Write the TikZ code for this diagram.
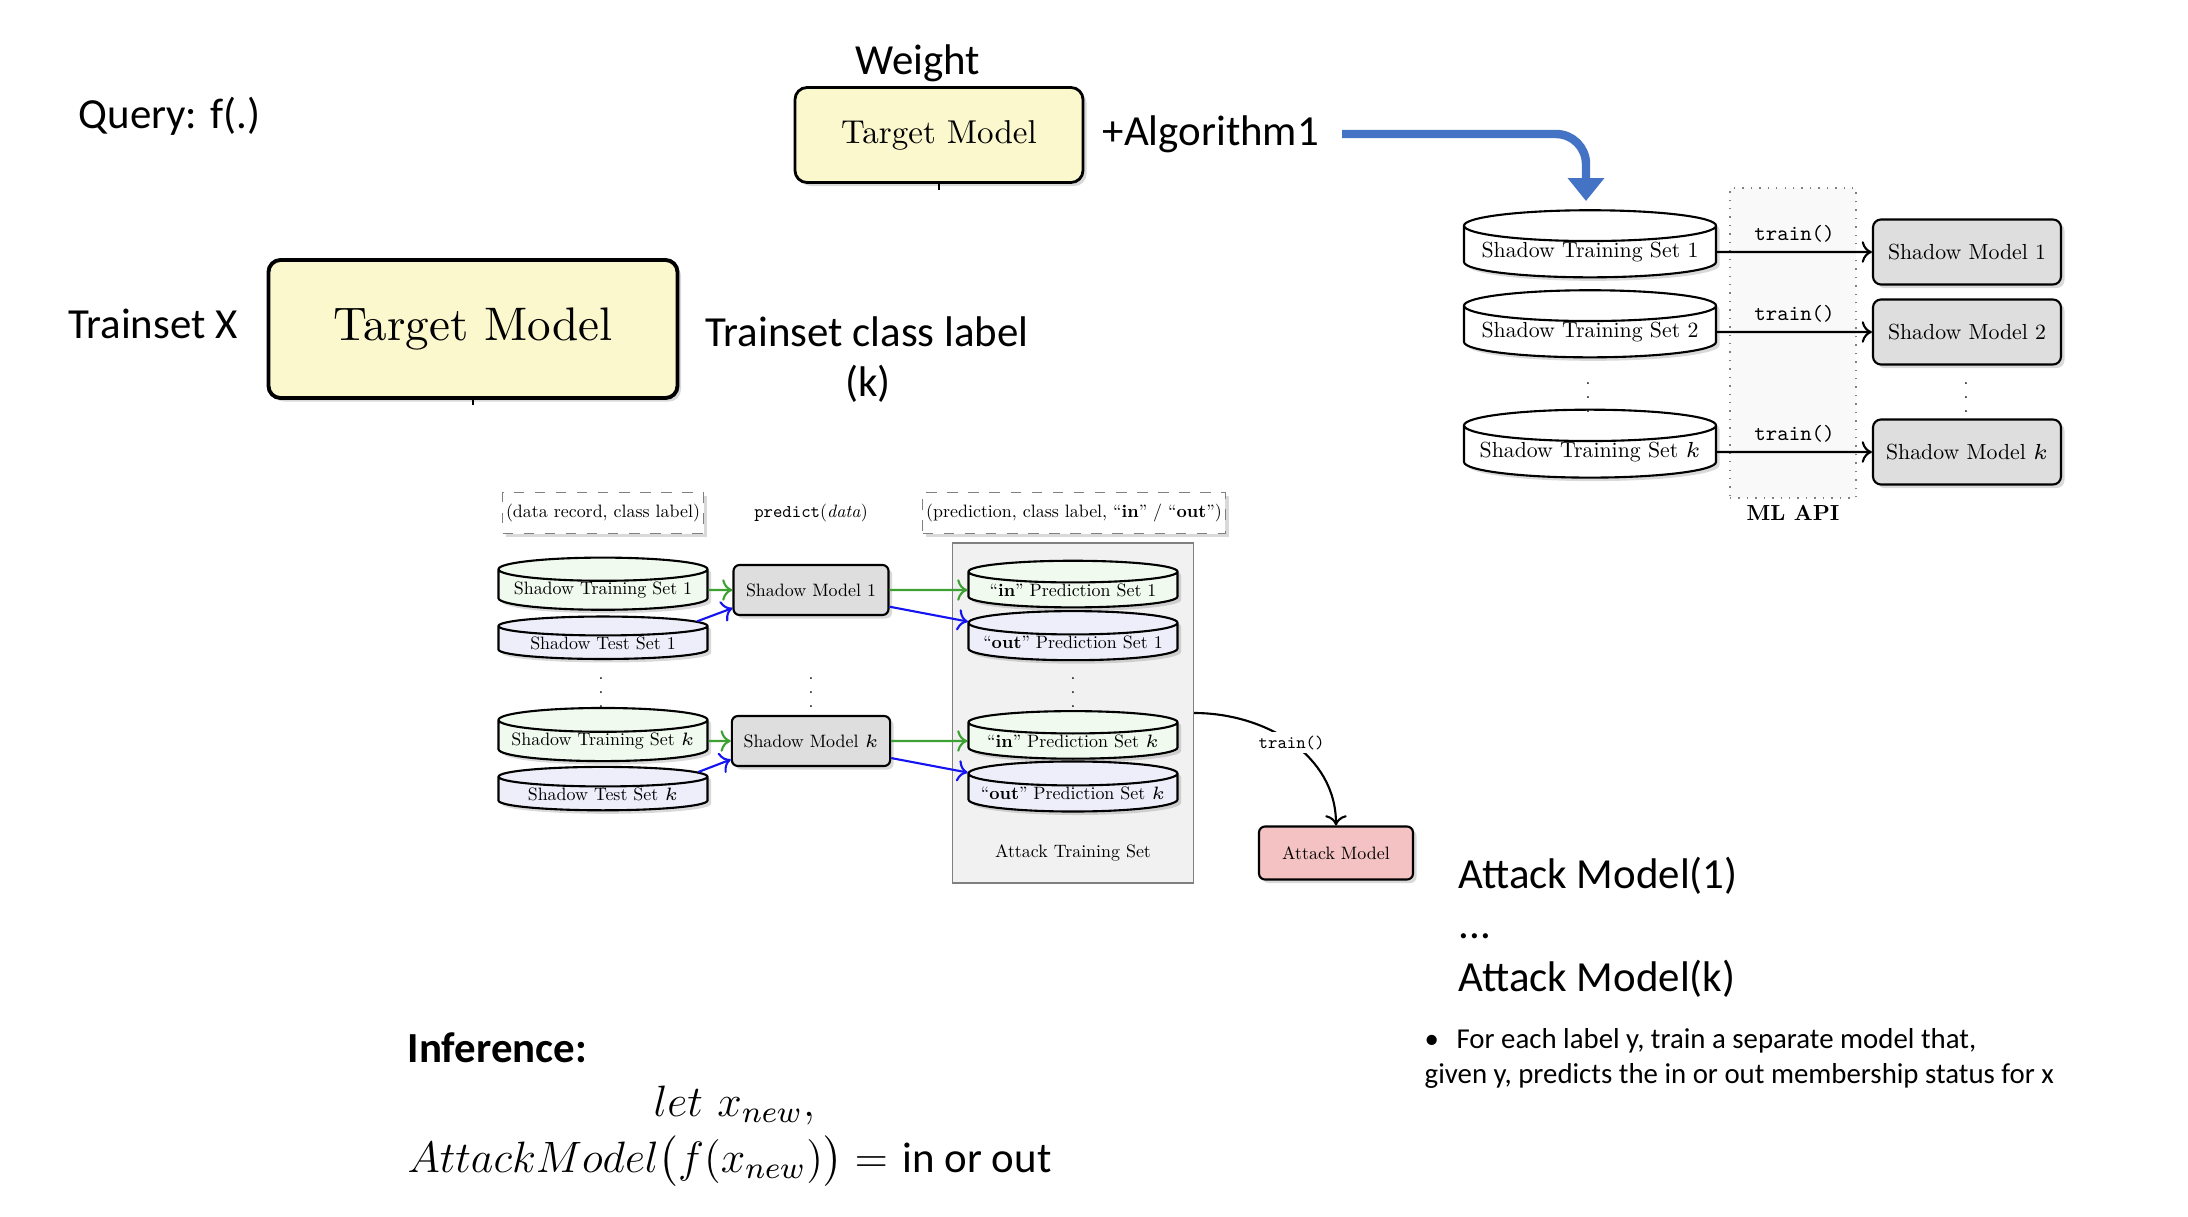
\RequirePackage{fix-cm}
\documentclass[tikz,border=0pt]{standalone}
\usepackage{amsmath}
\usepackage{fontspec}
\setmainfont{lmroman10-regular.otf}[BoldFont=lmroman10-bold.otf, ItalicFont=lmroman10-italic.otf, BoldItalicFont=lmroman10-bolditalic.otf]
\setmonofont{lmmono10-regular.otf}
\newfontfamily\slidefont{Carlito}
\usepackage{tikz}
\usetikzlibrary{positioning,shapes.geometric,arrows.meta,shadows}

\definecolor{tmyellow}{RGB}{252,248,206}
\definecolor{smgray}{RGB}{222,222,222}
\definecolor{atkpink}{RGB}{244,194,194}
\definecolor{ingreen}{RGB}{240,250,238}
\definecolor{outblue}{RGB}{238,238,251}
\definecolor{arrgreen}{RGB}{60,160,50}
\definecolor{arrblue}{RGB}{20,20,240}
\definecolor{pptblue}{RGB}{68,114,196}
\definecolor{panelgray}{RGB}{241,241,241}

\newcommand{\upfont}{\fontsize{6.2}{7.4}\selectfont}
\newcommand{\lofont}{\fontsize{5.1}{6.1}\selectfont}
\newcommand{\slidesize}{\fontsize{12.2}{14.6}\selectfont}

\tikzstyle{dshadow} = [drop shadow={shadow xshift=0.35mm, shadow yshift=-0.35mm, opacity=0.3}]
\tikzstyle{slide} = [inner sep=0pt, font=\slidefont\slidesize]
\tikzstyle{tmodel} = [rectangle, rounded corners=0.12cm, draw, fill=tmyellow, dshadow]
\tikzstyle{api} = [rectangle, draw=gray, dotted, fill=gray!5, minimum width=1.26cm, minimum height=3.1cm]
\tikzstyle{updb} = [cylinder, shape border rotate=90, aspect=0.142, draw, semithick, fill=white, minimum width=2.52cm, minimum height=0.46cm, font=\upfont, inner sep=0pt, dshadow]
\tikzstyle{upmodel} = [rectangle, rounded corners=0.08cm, draw, semithick, fill=smgray, minimum width=1.88cm, minimum height=0.65cm, font=\upfont, dshadow]
\tikzstyle{lodb} = [cylinder, shape border rotate=90, aspect=0.13, draw, semithick, minimum width=2.09cm, minimum height=0.36cm, font=\lofont, inner sep=0pt, dshadow]
\tikzstyle{indb} = [lodb, fill=ingreen]
\tikzstyle{outdb} = [lodb, fill=outblue]
\tikzstyle{lomodel} = [rectangle, rounded corners=0.06cm, draw, semithick, fill=smgray, minimum width=1.55cm, minimum height=0.5cm, font=\lofont, dshadow]
\tikzstyle{atkmodel} = [lomodel, fill=atkpink, minimum width=1.54cm, minimum height=0.53cm]
\tikzstyle{tag} = [rectangle, draw=gray, dashed, fill=white, inner xsep=1pt, minimum height=0.31cm, font=\lofont, dshadow]
\tikzstyle{panel} = [rectangle, draw=gray, fill=panelgray, minimum width=2.41cm, minimum height=3.4cm]
\tikzstyle{vdots} = [inner sep=0pt, font=\fontsize{5}{6}\selectfont]
\tikzstyle{line} = [draw, semithick, ->]
\tikzstyle{gline} = [line, arrgreen]
\tikzstyle{bline} = [line, arrblue]
\tikzstyle{algo} = [draw=pptblue, line width=2.4pt, rounded corners=0.3cm, -{Triangle[width=10pt,length=6.5pt]}]

\begin{document}
\begin{tikzpicture}[x=0.1mm, y=-0.1mm]
        \useasboundingbox (0, 0) rectangle (2188, 1216);

        % Slide text
        \node at (78, 128) [slide, anchor=base west] (query) {Query: f(.)};
        \node at (918, 74) [slide, anchor=base] (weight) {Weight};
        \node at (1102, 145) [slide, anchor=base west] (algo) {+Algorithm1};
        \node at (153, 338) [slide, anchor=base] (trainx) {Trainset X};
        \node at (867, 346) [slide, anchor=base] (tlabel) {Trainset class label};
        \node at (868, 396) [slide, anchor=base] (tlabelk) {(k)};
        \node at (1458, 888) [slide, anchor=base west] (atk1) {Attack Model(1)};
        \node at (1458, 938) [slide, anchor=base west] (atkdots) {...};
        \node at (1458, 991) [slide, anchor=base west] (atkk) {Attack Model(k)};
        \node at (1424, 1083) [inner sep=0pt, anchor=base west, align=left, font=\slidefont\fontsize{8.2}{9.7}\selectfont] (note) {\textbullet\hspace{5pt}For each label y, train a separate model that,\\given y, predicts the in or out membership status for x};
        \node at (407, 1062) [slide, anchor=base west, font=\slidefont\slidesize\bfseries] (infer) {Inference:};
        \node at (653, 1116) [inner sep=0pt, anchor=base west, font=\fontsize{12.5}{15}\selectfont] (letx) {$let\ x_{new},$};
        \node at (407, 1172) [inner sep=0pt, anchor=base west, font=\fontsize{12.5}{15}\selectfont] (rule) {$AttackModel\bigl(f(x_{new})\bigr) =$ {\slidefont\slidesize in or out}};

        % Target models
        \node at (939, 135) [tmodel, line width=0.8pt, minimum width=2.88cm, minimum height=0.95cm, font=\fontsize{9.4}{11}\selectfont] (tmtop) {Target Model};
        \node at (473, 329) [tmodel, line width=1.1pt, minimum width=4.09cm, minimum height=1.38cm, font=\fontsize{13.4}{16}\selectfont] (tmbig) {Target Model};
        \coordinate (tmtopend) at (939, 190);
        \coordinate (tmbigend) at (473, 405);
        \draw (tmtop.south) -- (tmtopend);
        \draw (tmbig.south) -- (tmbigend);

        % Algorithm arrow
        \coordinate (astart) at (1342, 134);
        \coordinate (aend) at (1586, 201);
        \draw [algo] (astart) -| (aend);

        % Shadow training through the ML API
        \node at (1793, 343) [api] (api) {};
        \node at (1793, 513) [font=\upfont\bfseries] (apilabel) {ML API};
        \node at (1590, 252) [updb] (st1) {Shadow Training Set 1};
        \node at (1590, 332) [updb] (st2) {Shadow Training Set 2};
        \node at (1590, 452) [updb] (stk) {Shadow Training Set $k$};
        \node at (1588, 387) [vdots] (stdots) {$\vdots$};
        \node at (1967, 252) [upmodel] (sm1) {Shadow Model 1};
        \node at (1967, 332) [upmodel] (sm2) {Shadow Model 2};
        \node at (1967, 452) [upmodel] (smk) {Shadow Model $k$};
        \node at (1966, 387) [vdots] (smdots) {$\vdots$};
        \path [line] (st1) -- node [above=-0.9pt, font=\upfont] {\texttt{train()}} (sm1);
        \path [line] (st2) -- node [above=-0.9pt, font=\upfont] {\texttt{train()}} (sm2);
        \path [line] (stk) -- node [above=-0.9pt, font=\upfont] {\texttt{train()}} (smk);

        % Attack training data
        \node at (603, 513) [tag] (tag1) {(data record, class label)};
        \node at (811, 513) [font=\lofont] (pred) {\texttt{predict}(\textit{data})};
        \node at (1074, 513) [tag] (tag2) {(prediction, class label, “\textbf{in}” / “\textbf{out}”)};
        \node at (1073, 713) [panel] (atkset) {};
        \node at (1073, 853) [font=\lofont] (atklabel) {Attack Training Set};

        \node at (603, 590) [indb] (tr1) {Shadow Training Set 1};
        \node at (603, 643) [outdb] (te1) {Shadow Test Set 1};
        \node at (603, 741) [indb] (trk) {Shadow Training Set $k$};
        \node at (603, 794) [outdb] (tek) {Shadow Test Set $k$};
        \node at (601, 682) [vdots] (trdots) {$\vdots$};
        \node at (811, 590) [lomodel] (m1) {Shadow Model 1};
        \node at (811, 741) [lomodel] (mk) {Shadow Model $k$};
        \node at (811, 682) [vdots] (mdots) {$\vdots$};
        \node at (1073, 590) [indb] (in1) {“\textbf{in}” Prediction Set 1};
        \node at (1073, 642) [outdb] (out1) {“\textbf{out}” Prediction Set 1};
        \node at (1073, 741) [indb] (ink) {“\textbf{in}” Prediction Set $k$};
        \node at (1073, 793) [outdb] (outk) {“\textbf{out}” Prediction Set $k$};
        \node at (1073, 682) [vdots] (pdots) {$\vdots$};
        \node at (1336, 853) [atkmodel] (atkm) {Attack Model};

        \path [gline] (tr1) -- (m1);
        \path [bline] (te1.13) -- (m1.193);
        \path [gline] (m1) -- (in1);
        \path [bline] (m1.348) -- (out1.169);
        \path [gline] (trk) -- (mk);
        \path [bline] (tek.13) -- (mk.193);
        \path [gline] (mk) -- (ink);
        \path [bline] (mk.348) -- (outk.169);
        \path [line] (atkset.east) to [out=0, in=90] node [fill=white, inner sep=1pt, font=\lofont] {\texttt{train()}} (atkm.north);
\end{tikzpicture}
\end{document}
